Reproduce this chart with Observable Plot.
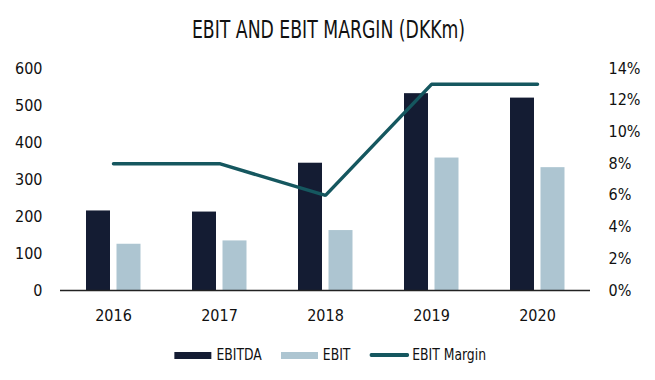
<!DOCTYPE html>
<html>
<head>
<meta charset="utf-8">
<script src="https://cdn.jsdelivr.net/npm/d3@7"></script>
<script src="https://cdn.jsdelivr.net/npm/@observablehq/plot@0.6"></script>
<style>
  html, body { margin: 0; padding: 0; background: #fff; }
  body { width: 655px; height: 380px; overflow: hidden; font-family: "DejaVu Sans Condensed", "Liberation Sans Narrow", "DejaVu Sans", sans-serif; color: #111; }
  #title { height: 50px; box-sizing: border-box; padding-top: 16px; line-height: 28px; font-size: 24px; text-align: center; }
  #title span { display: inline-block; transform: scaleX(0.8); transform-origin: center; white-space: nowrap; padding-left: 2px; }
  #legendWrap { margin-top: 11px; height: 20px; display: flex; justify-content: center; padding-left: 6px; }
  #legend { display: flex; align-items: center; font-size: 16px; line-height: 20px; transform: scaleX(0.86); transform-origin: center; white-space: nowrap; }
  .item { display: flex; align-items: center; margin-right: 22px; }
  .item:last-child { margin-right: 0; }
  .sw { display: inline-block; width: 43px; height: 7px; margin-right: 6px; }
  .ln { display: inline-block; width: 46px; height: 3.5px; border-radius: 2px; margin-right: 4px; }
</style>
</head>
<body>
<div id="title"><span>EBIT AND EBIT MARGIN (DKKm)</span></div>
<div id="chart"></div>
<div id="legendWrap"><div id="legend">
  <span class="item"><span class="sw" style="background:#141c33"></span>EBITDA</span>
  <span class="item"><span class="sw" style="background:#adc5d1"></span>EBIT</span>
  <span class="item"><span class="ln" style="background:#15575f"></span>EBIT Margin</span>
</div></div>
<script>
const years = ["2016", "2017", "2018", "2019", "2020"];
const ebitda = [215, 212, 344, 532, 520];
const ebit = [125, 134, 162, 358, 332];
const ebitMargin = [8, 8, 6, 13, 13];
const leftTicks = [0, 100, 200, 300, 400, 500, 600];
const rightTicks = [0, 2, 4, 6, 8, 10, 12, 14];

const yMax = 600, pMax = 14;
const data = years.map((year, i) => ({year, ebitda: ebitda[i], ebit: ebit[i], margin: ebitMargin[i]}));

const chart = Plot.plot({
  width: 655,
  height: 284,
  marginLeft: 60,
  marginRight: 65,
  marginTop: 18,
  marginBottom: 44,
  style: {fontFamily: '"DejaVu Sans Condensed", "Liberation Sans Narrow", "DejaVu Sans", sans-serif', fontSize: "16px", color: "#111", background: "#fff"},
  x: {domain: years, padding: 0},
  y: {domain: [0, yMax]},
  marks: [
    Plot.barY(data, {x: "year", y: "ebitda", fill: "#141c33", insetLeft: 26, insetRight: 56}),
    Plot.barY(data, {x: "year", y: "ebit", fill: "#adc5d1", insetLeft: 56.5, insetRight: 25.5}),
    Plot.ruleY([0], {stroke: "#222", strokeWidth: 1.5}),
    Plot.lineY(data, {x: "year", y: d => d.margin * yMax / pMax, stroke: "#15575f", strokeWidth: 3.5, strokeLinecap: "round", strokeLinejoin: "miter"}),
    Plot.axisX({tickSize: 0, tickPadding: 19, label: null}),
    Plot.axisY(leftTicks, {anchor: "left", tickSize: 0, tickPadding: 18, label: null}),
    Plot.axisY(rightTicks.map(p => p * yMax / pMax), {anchor: "right", tickSize: 0, tickPadding: 18, label: null, tickFormat: d => Math.round(d * pMax / yMax) + "%"})
  ]
});
document.getElementById("chart").appendChild(chart);
</script>
</body>
</html>
